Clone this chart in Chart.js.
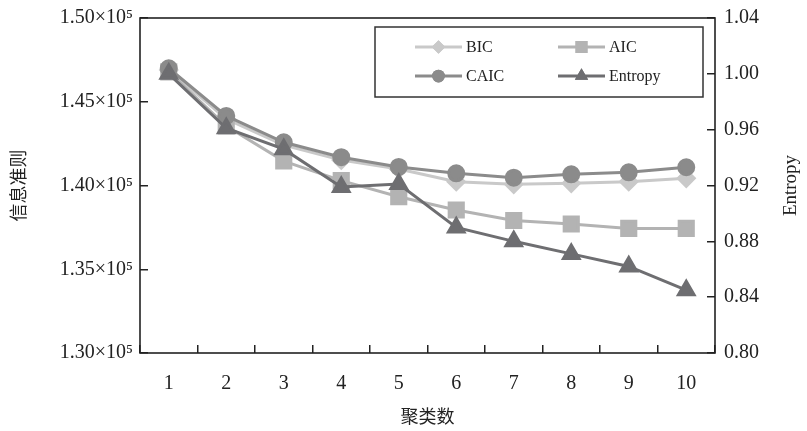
<!DOCTYPE html>
<html>
<head>
<meta charset="utf-8">
<script src="https://cdn.jsdelivr.net/npm/chart.js@4/dist/chart.umd.min.js"></script>
<style>
  html, body { margin: 0; padding: 0; background: #fff; }
  #wrap { width: 807px; height: 431px; }
</style>
</head>
<body>
<div id="wrap"><canvas id="c" width="807" height="431"></canvas></div>
<script>
// values
const clusters = ['1', '2', '3', '4', '5', '6', '7', '8', '9', '10'];
const bic = [146900, 143970, 142420, 141520, 140990, 140230, 140070, 140130, 140230, 140430];
const aic = [146780, 143550, 141460, 140290, 139330, 138540, 137910, 137700, 137440, 137440];
const caic = [147000, 144150, 142580, 141690, 141110, 140730, 140470, 140670, 140790, 141090];
const entropy = [1.000, 0.961, 0.946, 0.919, 0.921, 0.890, 0.880, 0.871, 0.862, 0.845];

const serif = "'Liberation Serif', 'Times New Roman', 'Noto Sans CJK SC', serif";
Chart.defaults.font.family = serif;
Chart.defaults.color = '#222';

const axisColor = '#222';

// frame, right-hand title and the boxed legend
const extras = {
  id: 'extras',
  afterDraw(chart) {
    const ctx = chart.ctx;
    const a = chart.chartArea;
    ctx.save();
    ctx.strokeStyle = axisColor;
    ctx.lineWidth = 1.6;
    ctx.strokeRect(a.left, a.top, a.right - a.left, a.bottom - a.top);

    // right axis title, reads bottom to top
    ctx.fillStyle = '#222';
    ctx.font = '19px ' + serif;
    ctx.translate(791, (a.top + a.bottom) / 2);
    ctx.rotate(-Math.PI / 2);
    ctx.textAlign = 'center';
    ctx.textBaseline = 'middle';
    ctx.fillText('Entropy', 0, 0);
    ctx.restore();

    // legend box
    ctx.save();
    ctx.strokeStyle = '#333';
    ctx.lineWidth = 1.5;
    ctx.strokeRect(375, 27, 328, 70);
    ctx.font = '16px ' + serif;
    ctx.textBaseline = 'middle';
    ctx.textAlign = 'left';
    chart.data.datasets.forEach((ds, i) => {
      const col = i % 2, row = Math.floor(i / 2);
      const x1 = 415 + col * 143, x2 = x1 + 47;
      const y = 47 + row * 29;
      ctx.strokeStyle = ds.borderColor;
      ctx.lineWidth = 3;
      ctx.beginPath();
      ctx.moveTo(x1, y);
      ctx.lineTo(x2, y);
      ctx.stroke();
      ctx.fillStyle = ds.backgroundColor;
      Chart.helpers.drawPoint(ctx, {
        pointStyle: ds.pointStyle,
        radius: ds.pointRadius * 0.85,
        rotation: 0,
        borderWidth: 0
      }, (x1 + x2) / 2, y);
      ctx.fill();
      ctx.fillStyle = '#222';
      ctx.fillText(ds.label, x2 + 4, y + 1);
    });
    ctx.restore();
  }
};

// fixed box sizes so the plot area sits where it does in the source
function fixY(width) {
  return s => {
    s.width = width;
    s.paddingTop = 0;
    s.paddingBottom = 0;
  };
}

new Chart(document.getElementById('c'), {
  type: 'line',
  data: {
    labels: clusters,
    datasets: [
      {
        label: 'BIC', data: bic, yAxisID: 'y', order: 3,
        borderColor: '#c9c9c9', backgroundColor: '#c9c9c9',
        pointStyle: 'rectRot', pointRadius: 8, borderWidth: 3
      },
      {
        label: 'AIC', data: aic, yAxisID: 'y', order: 2,
        borderColor: '#b3b3b3', backgroundColor: '#b3b3b3',
        pointStyle: 'rect', pointRadius: 10, borderWidth: 3
      },
      {
        label: 'CAIC', data: caic, yAxisID: 'y', order: 1,
        borderColor: '#8b8b8b', backgroundColor: '#8b8b8b',
        pointStyle: 'circle', pointRadius: 7.5, borderWidth: 3
      },
      {
        label: 'Entropy', data: entropy, yAxisID: 'y1', order: 0,
        borderColor: '#6e6e71', backgroundColor: '#6e6e71',
        pointStyle: 'triangle', pointRadius: 9, borderWidth: 3
      }
    ]
  },
  options: {
    responsive: false,
    animation: false,
    layout: { padding: { top: 18, left: 0, right: 0, bottom: 0 } },
    elements: {
      line: { tension: 0 },
      point: { borderWidth: 0, hoverRadius: 8 }
    },
    plugins: {
      legend: { display: false },
      tooltip: { enabled: false }
    },
    scales: {
      x: {
        offset: true,
        grid: {
          offset: true, drawOnChartArea: false, drawTicks: true,
          tickLength: -8, color: axisColor, lineWidth: 1.5
        },
        border: { display: false },
        ticks: { font: { size: 20 }, color: '#222', padding: 27, maxRotation: 0 },
        title: {
          display: true, text: '聚类数', color: '#222',
          font: { size: 18, family: "'Noto Sans CJK SC', sans-serif" },
          padding: { top: 4, bottom: 4 }
        },
        afterFit(s) { s.height = 78; }
      },
      y: {
        position: 'left',
        min: 130000, max: 150000,
        ticks: {
          stepSize: 5000, font: { size: 20 }, color: '#222', padding: 15,
          callback: v => (v / 100000).toFixed(2) + '×10⁵'
        },
        grid: {
          drawOnChartArea: false, drawTicks: true, tickLength: -8,
          color: axisColor, lineWidth: 1.5
        },
        border: { display: false },
        title: {
          display: true, text: '信息准则', color: '#222',
          font: { size: 18, family: "'Noto Sans CJK SC', sans-serif" },
          padding: { top: 7, bottom: 4 }
        },
        afterFit: fixY(140)
      },
      y1: {
        position: 'right',
        min: 0.80, max: 1.04,
        ticks: {
          stepSize: 0.04, font: { size: 20 }, color: '#222', padding: 17,
          callback: v => Number(v).toFixed(2)
        },
        grid: {
          drawOnChartArea: false, drawTicks: true, tickLength: -8,
          color: axisColor, lineWidth: 1.5
        },
        border: { display: false },
        afterFit: fixY(92)
      }
    }
  },
  plugins: [extras]
});
</script>
</body>
</html>
